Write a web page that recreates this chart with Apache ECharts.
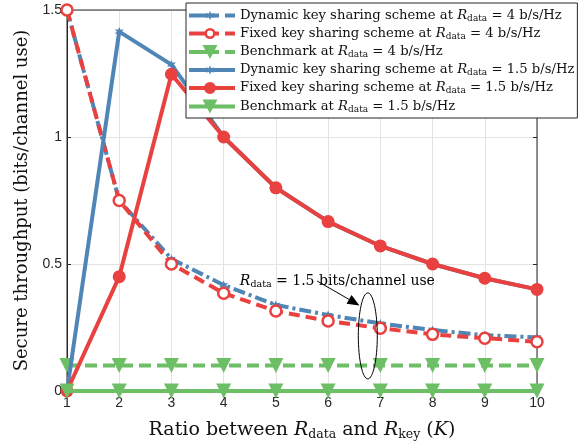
<!DOCTYPE html>
<html><head><meta charset="utf-8">
<script src="https://cdn.jsdelivr.net/npm/echarts@6/dist/echarts.min.js"></script>
<style>html,body{margin:0;padding:0;background:#fff}#c{width:579px;height:442px}</style>
</head><body><div id="c"></div>
<script>
const K = [1,2,3,4,5,6,7,8,9,10];
const dyn4 = [1.5, 0.75, 0.52, 0.417, 0.339, 0.299, 0.266, 0.24, 0.22, 0.211];
const fix4 = [1.5, 0.75, 0.5, 0.385, 0.315, 0.276, 0.247, 0.223, 0.208, 0.194];
const bench4 = [0.1,0.1,0.1,0.1,0.1,0.1,0.1,0.1,0.1,0.1];
const dyn15 = [0, 1.415, 1.285, 1.0, 0.8, 0.667, 0.571, 0.5, 0.444, 0.4];
const fix15 = [0, 0.45, 1.247, 1.0, 0.8, 0.667, 0.571, 0.5, 0.444, 0.4];
const bench15 = [0,0,0,0,0,0,0,0,0,0];

const BLUE='#4f86b6', RED='#e8413f', GREEN='#6dbf66';
const SERIF='DejaVu Serif';
const SANS='Liberation Sans';

const names = [
  ['d4','Dynamic key sharing scheme at ',' = 4 b/s/Hz'],
  ['f4','Fixed key sharing scheme at ',' = 4 b/s/Hz'],
  ['b4','Benchmark at ',' = 4 b/s/Hz'],
  ['d15','Dynamic key sharing scheme at ',' = 1.5 b/s/Hz'],
  ['f15','Fixed key sharing scheme at ',' = 1.5 b/s/Hz'],
  ['b15','Benchmark at ',' = 1.5 b/s/Hz']
];
const nameMap = {}; names.forEach(n=>nameMap[n[0]]=n);

function pairs(arr){ return K.map((k,i)=>[k,arr[i]]); }

function starPath(cx,cy,ro,ri){
  let s='';
  for(let i=0;i<12;i++){
    const r = i%2===0?ro:ri, a = -Math.PI/2 + i*Math.PI/6;
    s += (i===0?'M':'L') + (cx+r*Math.cos(a)).toFixed(2)+' '+(cy+r*Math.sin(a)).toFixed(2)+' ';
  }
  return s+'Z ';
}
function circ(cx,cy,r,sw){
  return 'M'+(cx-r)+' '+cy+' A'+r+' '+r+' 0 1 '+sw+' '+(cx+r)+' '+cy+' A'+r+' '+r+' 0 1 '+sw+' '+(cx-r)+' '+cy+' Z ';
}
function rect(x0,x1){ return 'M'+x0+' 6 L'+x1+' 6 L'+x1+' 10 L'+x0+' 10 Z '; }
function tri(cx,cy,w,h){ return 'M'+(cx-w/2)+' '+(cy-h/2)+' L'+(cx+w/2)+' '+(cy-h/2)+' L'+cx+' '+(cy+h/2)+' Z '; }
const MX=21;
const icons = {
  d4: 'path://'+rect(0,30)+rect(36,46)+starPath(MX,8,4.8,2.2),
  f4: 'path://'+rect(0,MX-5)+rect(MX+5,30)+rect(36,46)+circ(MX,8,5.5,1)+circ(MX,8,3,0),
  b4: 'path://'+rect(0,30)+rect(36,46)+tri(MX,8,15,14),
  d15:'path://'+rect(0,46)+starPath(MX,8,4.8,2.2),
  f15:'path://'+rect(0,46)+circ(MX,8,6,1),
  b15:'path://'+rect(0,46)+tri(MX,8,15,14)
};
const iconColor = {d4:BLUE,f4:RED,b4:GREEN,d15:BLUE,f15:RED,b15:GREEN};
const starSym = 'path://'+starPath(0,0,5,2.3);

function mk(id, data, color, type, symbol, size, fill, bw, z){
  return {
    name:id, type:'line', data:pairs(data), clip:false, z:z,
    symbol:symbol, symbolSize:size, showSymbol:true,
    lineStyle:{color:color, width:4, type:type},
    itemStyle:{color:fill, borderColor:color, borderWidth:bw},
    emphasis:{disabled:true}, animation:false
  };
}

const series = [
  mk('d4', dyn4, BLUE, [12,4,3,4], starSym, 9, BLUE, 0, 2),
  mk('f4', fix4, RED, [11,6], 'circle', 11, '#fff', 2.5, 3),
  mk('b4', bench4, GREEN, [12,6], 'triangle', 15, GREEN, 0, 4),
  mk('d15', dyn15, BLUE, 'solid', starSym, 9, BLUE, 0, 5),
  mk('f15', fix15, RED, 'solid', 'circle', 13, RED, 0, 6),
  mk('b15', bench15, GREEN, 'solid', 'triangle', 15, GREEN, 0, 7)
];
series[2].symbolRotate = 180; series[5].symbolRotate = 180;

const tickOnly = {axisLine:{show:false}, axisLabel:{show:false}, splitLine:{show:false},
  axisTick:{show:true, inside:true, length:4, lineStyle:{color:'#262626'}}};

const chart = echarts.init(document.getElementById('c'), null, {renderer:'canvas'});
chart.setOption({
  backgroundColor:'#fff',
  animation:false,
  grid:{left:67, right:42, top:10, bottom:51, show:true, borderColor:'#262626', borderWidth:1, z:1,
        outerBoundsMode:'none', containLabel:false},
  xAxis:[{type:'value', min:1, max:10, interval:1,
    axisLine:{show:true, lineStyle:{color:'#262626'}},
    axisTick:{inside:true, length:4, lineStyle:{color:'#262626'}},
    axisLabel:{fontFamily:SANS, fontSize:14, color:'#262626', margin:5},
    splitLine:{show:true, lineStyle:{color:'#e3e3e3', width:1}},
    name:'{t|Ratio between }{i|R}{s|data}{t| and }{i|R}{s|key}{t| (}{i|K}{t|)}',
    nameLocation:'middle', nameGap:29,
    nameTextStyle:{rich:{
      t:{fontFamily:SERIF, fontSize:19, color:'#111'},
      i:{fontFamily:SERIF, fontSize:19, fontStyle:'italic', color:'#111'},
      s:{fontFamily:SERIF, fontSize:12.5, color:'#111', padding:[8,0,0,0]}
    }}
  }, Object.assign({type:'value', min:1, max:10, interval:1, position:'top'}, tickOnly)],
  yAxis:[{type:'value', min:0, max:1.5, interval:0.5,
    axisLine:{show:true, lineStyle:{color:'#262626'}},
    axisTick:{inside:true, length:4, lineStyle:{color:'#262626'}},
    axisLabel:{fontFamily:SANS, fontSize:14, color:'#262626', margin:5,
      formatter:v=>String(v)},
    splitLine:{show:true, lineStyle:{color:'#e3e3e3', width:1}},
    name:'Secure throughput (bits/channel use)', nameLocation:'middle', nameGap:35,
    nameTextStyle:{fontFamily:SERIF, fontSize:18, color:'#111'}
  }, Object.assign({type:'value', min:0, max:1.5, interval:0.5, position:'right'}, tickOnly)],
  legend:{
    orient:'vertical', left:186, top:3,
    backgroundColor:'#fff', borderColor:'#262626', borderWidth:1,
    padding:[6,3,4,3], itemGap:4, itemWidth:46, itemHeight:16,
    symbolKeepAspect:true,
    data:names.map(n=>({name:n[0], icon:icons[n[0]],
      itemStyle:{color:iconColor[n[0]], borderWidth:0, opacity:1}})),
    formatter:function(id){const n=nameMap[id]; return '{t|'+n[1]+'}{i|R}{s|data}{t|'+n[2]+'}';},
    textStyle:{rich:{
      t:{fontFamily:SERIF, fontSize:13.2, color:'#111', lineHeight:16},
      i:{fontFamily:SERIF, fontSize:13.2, fontStyle:'italic', color:'#111', lineHeight:16},
      s:{fontFamily:SERIF, fontSize:9, color:'#111', padding:[6,0,0,0]}
    }},
    z:20
  },
  series:series
});

function px(x,y){return chart.convertToPixel({gridIndex:0},[x,y]);}
const tp = px(4.31, 0.43);
const a0 = px(5.79, 0.433), a1 = px(6.6, 0.337);
const ec = px(6.76, 0.217);
const ang = Math.atan2(a1[1]-a0[1], a1[0]-a0[0]);
const hl=12, hw=5;
const bx = a1[0]-hl*Math.cos(ang), by=a1[1]-hl*Math.sin(ang);
chart.setOption({graphic:[
  {type:'text', x:tp[0], y:tp[1], z:30, style:{
    text:'{i|R}{s|data}{t| = 1.5 bits/channel use}', verticalAlign:'middle',
    rich:{
      t:{fontFamily:SERIF, fontSize:14, color:'#111'},
      i:{fontFamily:SERIF, fontSize:14, fontStyle:'italic', color:'#111'},
      s:{fontFamily:SERIF, fontSize:9.5, color:'#111', padding:[6,0,0,0]}
    }}},
  {type:'line', z:29, shape:{x1:a0[0], y1:a0[1], x2:bx, y2:by}, style:{stroke:'#000', lineWidth:1}},
  {type:'polygon', z:30, shape:{points:[[a1[0],a1[1]],
     [bx+hw*Math.sin(ang), by-hw*Math.cos(ang)],[bx-hw*Math.sin(ang), by+hw*Math.cos(ang)]]},
   style:{fill:'#000'}},
  {type:'ellipse', z:30, shape:{cx:ec[0], cy:ec[1], rx:9.5, ry:43}, style:{fill:null, stroke:'#000', lineWidth:1}}
]});
</script></body></html>
